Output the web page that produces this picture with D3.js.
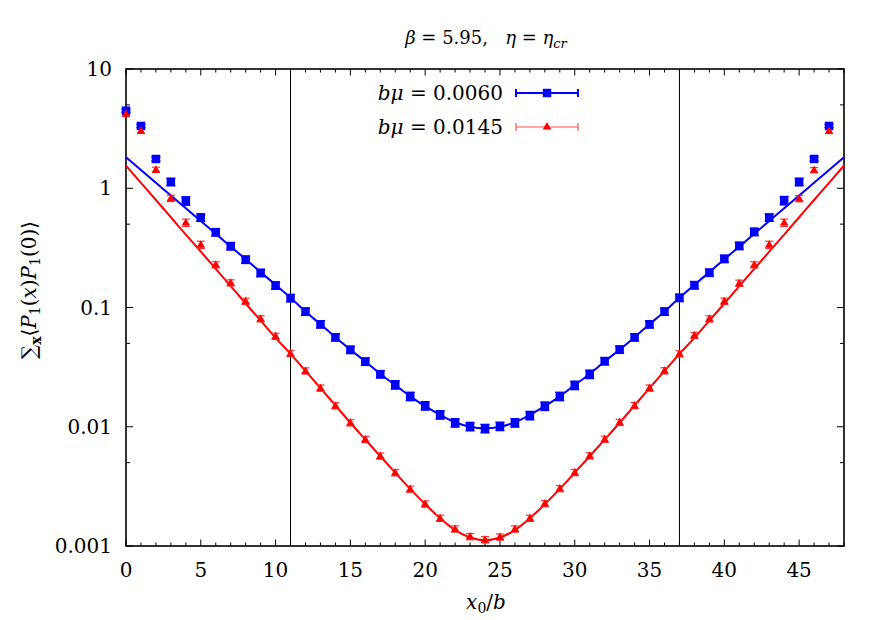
<!DOCTYPE html>
<html lang="en">
<head>
  <meta charset="UTF-8">
  <title>Correlator</title>
  <script src="https://d3js.org/d3.v7.min.js" charset="utf-8"></script>
  <style>
    body { margin: 0; background: #fff; }
  </style>
</head>
<body>
  <svg width="886" height="620" font-family="'DejaVu Serif', 'Liberation Serif', serif"></svg>
  <script>
    // data
    const x0 = d3.range(0, 48)
    const blue = [4.47, 3.33, 1.76, 1.13, 0.784, 0.568, 0.428, 0.327, 0.252, 0.195,
      0.153, 0.120, 0.0925, 0.0724, 0.0563, 0.0442, 0.0352, 0.0276, 0.0225, 0.0180,
      0.0150, 0.0126, 0.0108, 0.01006, 0.00968, 0.0101, 0.0108, 0.01244, 0.0149, 0.0180,
      0.0223, 0.0276, 0.0355, 0.0444, 0.0563, 0.0724, 0.0925, 0.1206, 0.154, 0.196,
      0.256, 0.329, 0.431, 0.568, 0.789, 1.13, 1.76, 3.33]
    const red = [4.2, 3.03, 1.43, 0.824, 0.515, 0.336, 0.228, 0.161, 0.113, 0.0804,
      0.0574, 0.0412, 0.0294, 0.0211, 0.0150, 0.0108, 0.00783, 0.00568, 0.00412, 0.00300,
      0.00225, 0.00171, 0.00139, 0.00120, 0.00113, 0.00119, 0.00139, 0.00171, 0.00227, 0.00303,
      0.00414, 0.00571, 0.00786, 0.0109, 0.0151, 0.0211, 0.0295, 0.0409, 0.0584, 0.0804,
      0.113, 0.160, 0.228, 0.336, 0.515, 0.820, 1.42, 3.03]
    // relative errors
    const blueErr = [0.03, 0.03, 0.04, 0.07, 0.08, 0.07, 0.07, 0.07, 0.07, 0.07,
      0.07, 0.07, 0.07, 0.07, 0.07, 0.07, 0.07, 0.07, 0.08, 0.08,
      0.08, 0.08, 0.08, 0.08, 0.08, 0.08, 0.08, 0.08, 0.08, 0.08,
      0.08, 0.08, 0.07, 0.07, 0.07, 0.07, 0.07, 0.07, 0.07, 0.07,
      0.07, 0.07, 0.07, 0.07, 0.08, 0.07, 0.04, 0.03]
    const redErr = [0.04, 0.05, 0.05, 0.06, 0.07, 0.07, 0.06, 0.06, 0.06, 0.06,
      0.06, 0.06, 0.06, 0.06, 0.06, 0.06, 0.06, 0.06, 0.06, 0.06,
      0.06, 0.06, 0.06, 0.06, 0.06, 0.06, 0.06, 0.06, 0.06, 0.06,
      0.06, 0.06, 0.06, 0.06, 0.06, 0.06, 0.06, 0.06, 0.06, 0.06,
      0.06, 0.06, 0.06, 0.07, 0.07, 0.06, 0.05, 0.05]
    // fit curves at integer x0 = 0..48
    const fitX = d3.range(0, 49)
    const blueFit = [1.82, 1.42, 1.11, 0.869, 0.679, 0.531, 0.415, 0.324, 0.254, 0.198,
      0.155, 0.121, 0.0925, 0.0724, 0.0563, 0.0443, 0.0353, 0.0277, 0.0224, 0.0180,
      0.0149, 0.0126, 0.0109, 0.0100, 0.0097, 0.0100, 0.0109, 0.0126, 0.0149, 0.0180,
      0.0224, 0.0277, 0.0353, 0.0443, 0.0563, 0.0724, 0.0925, 0.121, 0.155, 0.198,
      0.254, 0.324, 0.415, 0.531, 0.679, 0.869, 1.11, 1.42, 1.82]
    const redFit = [1.55, 1.11, 0.797, 0.571, 0.409, 0.294, 0.211, 0.151, 0.108, 0.0777,
      0.0557, 0.0409, 0.0294, 0.0211, 0.0151, 0.0108, 0.00781, 0.00566, 0.00412, 0.00301,
      0.00224, 0.00171, 0.00136, 0.00118, 0.00112, 0.00118, 0.00136, 0.00171, 0.00224, 0.00301,
      0.00412, 0.00566, 0.00781, 0.0108, 0.0151, 0.0211, 0.0294, 0.0409, 0.0557, 0.0777,
      0.108, 0.151, 0.211, 0.294, 0.409, 0.571, 0.797, 1.11, 1.55]
    const vLines = [11, 37]
    const xMajor = d3.range(0, 50, 5)
    const yMajor = [0.001, 0.01, 0.1, 1, 10]
    const yMajorLabels = ["0.001", "0.01", "0.1", "1", "10"]
    const yMinor = [0.005, 0.05, 0.5, 5]

    const svg = d3.select("svg")
    const plot = { left: 126, right: 844, top: 69, bottom: 546 }
    const x = d3.scaleLinear().domain([0, 48]).range([plot.left, plot.right])
    const y = d3.scaleLog().domain([0.001, 10]).range([plot.bottom, plot.top])

    // ticks (inward, mirrored)
    const axisG = svg.append("g").attr("stroke", "#000").attr("stroke-width", 1)
    d3.range(0, 49).forEach(v => {
      const len = v % 5 === 0 ? 6.5 : 3.5
      axisG.append("line").attr("x1", x(v)).attr("x2", x(v))
        .attr("y1", plot.bottom).attr("y2", plot.bottom - len)
      axisG.append("line").attr("x1", x(v)).attr("x2", x(v))
        .attr("y1", plot.top).attr("y2", plot.top + len)
    })
    yMajor.concat(yMinor).forEach(v => {
      const len = yMajor.includes(v) ? 7 : 4
      axisG.append("line").attr("y1", y(v)).attr("y2", y(v))
        .attr("x1", plot.left).attr("x2", plot.left + len)
      axisG.append("line").attr("y1", y(v)).attr("y2", y(v))
        .attr("x1", plot.right).attr("x2", plot.right - len)
    })

    // tick labels
    svg.append("g").selectAll("text").data(xMajor).join("text")
      .attr("x", d => x(d)).attr("y", plot.bottom + 31)
      .attr("text-anchor", "middle").attr("font-size", 20)
      .text(d => d)
    svg.append("g").selectAll("text").data(yMajor).join("text")
      .attr("x", plot.left - 14).attr("y", d => y(d) + 7)
      .attr("text-anchor", "end").attr("font-size", 20)
      .text((d, i) => yMajorLabels[i])

    // vertical marker lines
    svg.append("g").selectAll("line").data(vLines).join("line")
      .attr("x1", d => x(d)).attr("x2", d => x(d))
      .attr("y1", plot.top).attr("y2", plot.bottom)
      .attr("stroke", "#000").attr("stroke-width", 1)

    // frame
    svg.append("rect")
      .attr("x", plot.left).attr("y", plot.top)
      .attr("width", plot.right - plot.left).attr("height", plot.bottom - plot.top)
      .attr("fill", "none").attr("stroke", "#000").attr("stroke-width", 1.6)

    const line = d3.line().x((d, i) => x(fitX[i])).y(d => y(d)).curve(d3.curveMonotoneX)
    svg.append("path").attr("d", line(blueFit))
      .attr("fill", "none").attr("stroke", "#0000ff").attr("stroke-width", 2)
    svg.append("path").attr("d", line(redFit))
      .attr("fill", "none").attr("stroke", "#ff0000").attr("stroke-width", 2)

    function errorBars(vals, errs, color, width, cap) {
      const g = svg.append("g").attr("stroke", color).attr("stroke-width", width)
      vals.forEach((v, i) => {
        const cx = x(x0[i]), lo = y(v * (1 - errs[i])), hi = y(v * (1 + errs[i]))
        g.append("line").attr("x1", cx).attr("x2", cx).attr("y1", lo).attr("y2", hi)
        g.append("line").attr("x1", cx - cap).attr("x2", cx + cap).attr("y1", lo).attr("y2", lo)
        g.append("line").attr("x1", cx - cap).attr("x2", cx + cap).attr("y1", hi).attr("y2", hi)
      })
    }
    errorBars(red, redErr, "#ff3030", 1.2, 4)
    errorBars(blue, blueErr, "#0000ff", 1.5, 4.5)

    const sq = d3.symbol().type(d3.symbolSquare).size(72)
    const tri = d3.symbol().type(d3.symbolTriangle).size(32)
    svg.append("g").selectAll("path").data(blue).join("path")
      .attr("d", sq).attr("fill", "#0000ff")
      .attr("transform", (d, i) => `translate(${x(x0[i])},${y(d)})`)
    svg.append("g").selectAll("path").data(red).join("path")
      .attr("d", tri).attr("fill", "#ff0000")
      .attr("transform", (d, i) => `translate(${x(x0[i])},${y(d) + 0.5})`)

    // legend
    const legend = [
      { label: "0.0060", color: "#0000ff", w: 2, sym: sq, fill: "#0000ff", cy: 93 },
      { label: "0.0145", color: "#ff5050", w: 1.2, sym: tri, fill: "#ff0000", cy: 127 }
    ]
    legend.forEach(l => {
      const t = svg.append("text").attr("x", 503).attr("y", l.cy + 7)
        .attr("text-anchor", "end").attr("font-size", 20)
      t.append("tspan").attr("font-style", "italic").text("bμ")
      t.append("tspan").text(" = " + l.label)
      const g = svg.append("g").attr("stroke", l.color).attr("stroke-width", l.w)
      g.append("line").attr("x1", 516).attr("x2", 578).attr("y1", l.cy).attr("y2", l.cy)
      g.append("line").attr("x1", 516).attr("x2", 516).attr("y1", l.cy - 4).attr("y2", l.cy + 4)
      g.append("line").attr("x1", 578).attr("x2", 578).attr("y1", l.cy - 4).attr("y2", l.cy + 4)
      svg.append("path").attr("d", l.sym).attr("fill", l.fill)
        .attr("transform", `translate(547,${l.cy})`)
    })

    // title
    const title = svg.append("text").attr("x", 486).attr("y", 44)
      .attr("text-anchor", "middle").attr("font-size", 18)
    title.append("tspan").attr("font-style", "italic").text("β")
    title.append("tspan").text(" = 5.95,\u00a0\u00a0\u00a0")
    title.append("tspan").attr("font-style", "italic").text("η")
    title.append("tspan").text(" = ")
    title.append("tspan").attr("font-style", "italic").text("η")
    title.append("tspan").attr("font-style", "italic").attr("font-size", 13).attr("dy", 4).text("cr")

    // x label
    const xl = svg.append("text").attr("x", 486).attr("y", 609)
      .attr("text-anchor", "middle").attr("font-size", 20)
    xl.append("tspan").attr("font-style", "italic").text("x")
    xl.append("tspan").attr("font-size", 14).attr("dy", 4).text("0")
    xl.append("tspan").attr("dy", -4).text("/")
    xl.append("tspan").attr("font-style", "italic").text("b")

    // y label
    const yl = svg.append("text")
      .attr("transform", "translate(36,290) rotate(-90)")
      .attr("text-anchor", "middle").attr("font-size", 20)
    yl.append("tspan").text("∑")
    yl.append("tspan").attr("font-weight", "bold").attr("font-size", 14).attr("dy", 5).text("x")
    yl.append("tspan").attr("dy", -5).text("⟨")
    yl.append("tspan").attr("font-style", "italic").text("P")
    yl.append("tspan").attr("font-size", 14).attr("dy", 4).text("1")
    yl.append("tspan").attr("dy", -4).text("(")
    yl.append("tspan").attr("font-style", "italic").text("x")
    yl.append("tspan").text(")")
    yl.append("tspan").attr("font-style", "italic").text("P")
    yl.append("tspan").attr("font-size", 14).attr("dy", 4).text("1")
    yl.append("tspan").attr("dy", -4).text("(0)⟩")
  </script>
</body>
</html>
